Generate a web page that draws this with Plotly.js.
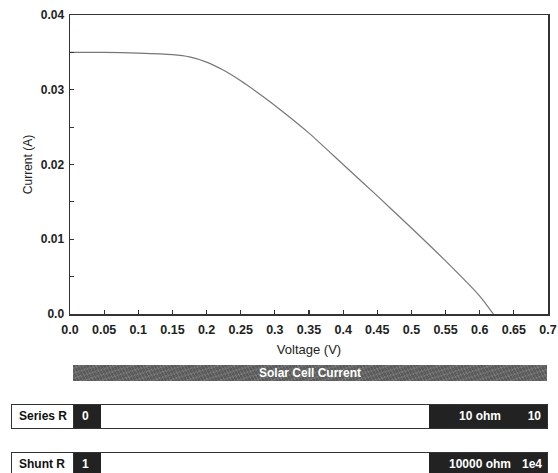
<!DOCTYPE html>
<html>
<head>
<meta charset="utf-8">
<script src="https://cdn.plot.ly/plotly-3.0.1.min.js"></script>
<style>
  html, body { margin:0; padding:0; background:#fff; overflow:hidden; width:558px; height:473px; }
  #chart { position:absolute; left:0; top:0; width:558px; height:473px; }
  .bar { position:absolute; font-family:"Liberation Sans", Arial, sans-serif; font-weight:bold; font-size:12px; }
  .title-bar { left:73px; top:365px; width:474px; height:16px; color:#fff; text-align:center; line-height:16px;
     background-color:#666;
     background-image: repeating-linear-gradient(63deg, rgba(255,255,255,0.07) 0 1px, rgba(0,0,0,0.07) 1px 3px),
                       repeating-linear-gradient(-17deg, rgba(255,255,255,0.06) 0 2px, rgba(0,0,0,0.05) 2px 5px); }
  .row { position:absolute; left:11px; width:537px; height:25px; border:1px solid #333; box-sizing:border-box; background:#fff; }
  .row div { position:absolute; top:0; height:100%; line-height:23px; }
  .lab { left:0; width:62px; color:#111; padding-left:7px; box-sizing:border-box; border-right:1px solid #333; }
  .val { left:62px; width:27px; background:#222; color:#fff; padding-left:8px; box-sizing:border-box; }
  .track { left:89px; width:328px; background:#fff; }
  .rt { left:417px; right:0; background:#222; color:#fff; }
  .rt span { position:absolute; top:0; }
</style>
</head>
<body>
<div id="chart"></div>
<div class="bar title-bar">Solar Cell Current</div>
<div class="bar row" style="top:404px;">
  <div class="lab">Series R</div>
  <div class="val">0</div>
  <div class="track"></div>
  <div class="rt"><span style="left:30px;">10 ohm</span><span style="right:6px;">10</span></div>
</div>
<div class="bar row" style="top:452px; height:26px;">
  <div class="lab">Shunt R</div>
  <div class="val">1</div>
  <div class="track"></div>
  <div class="rt"><span style="left:20px;">10000 ohm</span><span style="right:5px;">1e4</span></div>
</div>
<script>
// I-V curve
const voltage = [0, 0.05, 0.1, 0.15, 0.175, 0.2, 0.225, 0.25, 0.275, 0.3, 0.35, 0.4, 0.45, 0.5, 0.55, 0.6, 0.62];
const current = [0.0350, 0.0350, 0.0349, 0.0347, 0.0344, 0.0337, 0.0326, 0.0312, 0.0296, 0.0279, 0.0242, 0.0200, 0.0158, 0.0115, 0.0071, 0.0024, 0.0];

const xTickVals = [0, 0.05, 0.1, 0.15, 0.2, 0.25, 0.3, 0.35, 0.4, 0.45, 0.5, 0.55, 0.6, 0.65, 0.7];
const xTickText = ['0.0','0.05','0.1','0.15','0.2','0.25','0.3','0.35','0.4','0.45','0.5','0.55','0.6','0.65','0.7'];
const yTickVals = [0, 0.01, 0.02, 0.03, 0.04];
const yTickText = ['0.0','0.01','0.02','0.03','0.04'];

const fontFam = '"Liberation Sans", Arial, sans-serif';

Plotly.newPlot('chart', [{
  x: voltage, y: current, type: 'scatter', mode: 'lines',
  line: { color: '#777', width: 1.2, shape: 'spline', smoothing: 0.6 },
  hoverinfo: 'skip'
}], {
  width: 558, height: 473,
  margin: { l: 70, r: 10, t: 15, b: 159 },
  paper_bgcolor: '#fff', plot_bgcolor: '#fff',
  showlegend: false,
  font: { family: fontFam, size: 12, color: '#222' },
  xaxis: {
    range: [0, 0.7], showgrid: false, zeroline: false,
    showline: true, linecolor: '#333', linewidth: 1.5, mirror: true,
    ticks: 'inside', ticklen: 4, tickwidth: 1.2, tickcolor: '#333',
    tickvals: xTickVals, ticktext: xTickText, ticklabelstandoff: 3,
    tickfont: { family: fontFam, size: 12.5, color: '#222', weight: 'bold' },
    title: { text: 'Voltage (V)', font: { family: fontFam, size: 13, color: '#222' }, standoff: 9 }
  },
  yaxis: {
    range: [0, 0.04], showgrid: false, zeroline: false,
    showline: true, linecolor: '#333', linewidth: 1.5, mirror: true,
    ticks: 'inside', ticklen: 4, tickwidth: 1.2, tickcolor: '#333',
    tickvals: yTickVals, ticktext: yTickText, ticklabelstandoff: 2,
    minor: { tickvals: [0.005, 0.015, 0.025, 0.035], ticks: 'inside', ticklen: 4, tickcolor: '#333', tickwidth: 1.2 },
    tickfont: { family: fontFam, size: 12, color: '#222', weight: 'bold' },
    title: { text: 'Current (A)', font: { family: fontFam, size: 12, color: '#222' }, standoff: 5 }
  }
}, { staticPlot: true, displayModeBar: false });
</script>
</body>
</html>
